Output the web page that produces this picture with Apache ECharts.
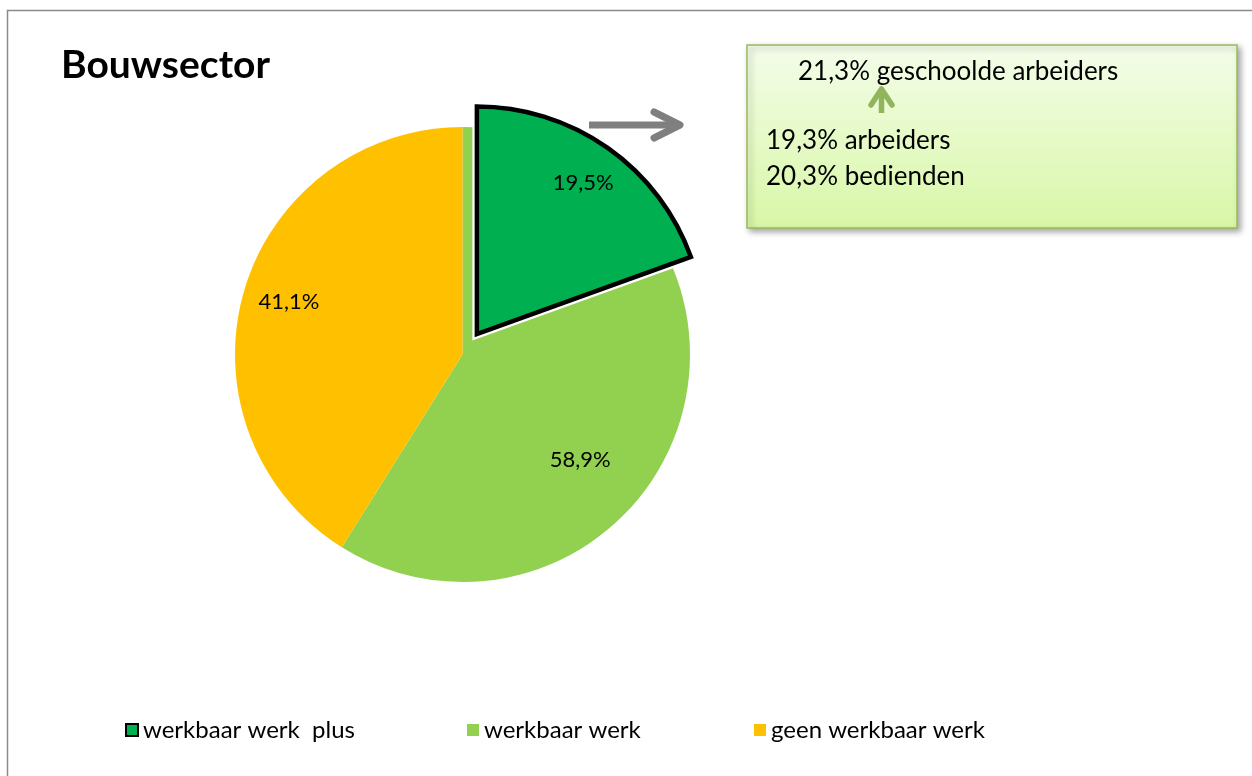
<!DOCTYPE html>
<html>
<head>
<meta charset="utf-8">
<title>Bouwsector</title>
<script src="https://cdn.jsdelivr.net/npm/echarts@6/dist/echarts.min.js"></script>
<style>
  html, body { margin: 0; padding: 0; background: #fff; }
  #chart { width: 1252px; height: 776px; }
</style>
</head>
<body>
<div id="chart"></div>
<script>
// Share of workers per category (percent)
const chartTitle = 'Bouwsector';
const categories = ['werkbaar werk  plus', 'werkbaar werk', 'geen werkbaar werk'];
const shares = [19.5, 58.9, 41.1];
// Breakdown of "werkbaar werk plus" shown in the side note
const noteLines = ['21,3% geschoolde arbeiders', '19,3% arbeiders', '20,3% bedienden'];

const COLORS = { plus: '#00B050', werk: '#92D050', geen: '#FFC000' };
const FONT = 'Lato, "Open Sans", sans-serif';
const CX = 462.5, CY = 354.5, R = 227.5;
const EXPLODE = 25;
const CLEAR = 'rgba(0,0,0,0)';

const fmt = v => v.toFixed(1).replace('.', ',') + '%';

// the "plus" slice is a part of "werkbaar werk", pulled out along its bisector
const plusMid = (shares[0] / 100) * Math.PI; // half the slice angle, radians from 12 o'clock
const plusCenter = [CX + EXPLODE * Math.sin(plusMid), CY - EXPLODE * Math.cos(plusMid)];
const plusRest = 100 - shares[0];
const werkRest = shares[1] - shares[0];

const hidden = { show: false };
const labelText = { fontFamily: FONT, fontSize: 22, color: '#000' };

const chart = echarts.init(document.getElementById('chart'), null, { renderer: 'canvas' });

const baseSeries = {
  type: 'pie', center: [CX, CY], radius: [0, R], startAngle: 90, clockwise: true,
  silent: true, label: hidden, labelLine: hidden, z: 1,
  data: [
    { name: categories[1], value: shares[1], itemStyle: { color: COLORS.werk } },
    { name: categories[2], value: shares[2], itemStyle: { color: COLORS.geen } }
  ]
};

const haloSeries = {
  type: 'pie', center: plusCenter, radius: [0, R], startAngle: 90, clockwise: true,
  silent: true, label: hidden, labelLine: hidden, z: 2,
  data: [
    { name: 'halo', value: shares[0], itemStyle: { color: '#fff', borderColor: '#fff', borderWidth: 9, borderJoin: 'miter' } },
    { name: 'rest', value: plusRest, itemStyle: { color: CLEAR } }
  ]
};

const plusSeries = {
  type: 'pie', center: plusCenter, radius: [0, R], startAngle: 90, clockwise: true,
  silent: true, label: hidden, labelLine: hidden, z: 3,
  data: [
    { name: categories[0], value: shares[0], itemStyle: { color: COLORS.plus, borderColor: '#000', borderWidth: 4.5, borderJoin: 'miter' } },
    { name: 'rest', value: plusRest, itemStyle: { color: CLEAR } }
  ]
};

// label carriers: transparent rings so the labels sit further out than mid-radius
const plusLabels = {
  type: 'pie', center: plusCenter, radius: [R * 0.6, R], startAngle: 90, clockwise: true,
  silent: true, labelLine: hidden, z: 4,
  label: Object.assign({ show: true, position: 'inside' }, labelText),
  data: [
    { name: categories[0], value: shares[0], itemStyle: { color: CLEAR }, label: { formatter: fmt(shares[0]) } },
    { name: 'rest', value: plusRest, itemStyle: { color: CLEAR }, label: hidden }
  ]
};

const mainLabels = {
  type: 'pie', center: [CX, CY], radius: [R * 0.58, R], startAngle: 90, clockwise: true,
  silent: true, labelLine: hidden, z: 4,
  label: Object.assign({ show: true, position: 'inside' }, labelText),
  labelLayout: p => (p.dataIndex === 1 ? { dx: 3, dy: -37 } : { dx: 2, dy: -2 }),
  data: [
    { name: categories[0], value: shares[0], itemStyle: { color: CLEAR }, label: hidden },
    { name: categories[1], value: werkRest, itemStyle: { color: CLEAR }, label: { formatter: fmt(shares[1]) } },
    { name: categories[2], value: shares[2], itemStyle: { color: CLEAR }, label: { formatter: fmt(shares[2]) } }
  ]
};

const legendLefts = [125, 467, 754];
const legendIcons = [
  { color: COLORS.plus, borderColor: '#000', borderWidth: 2 },
  { color: COLORS.werk, borderWidth: 0 },
  { color: COLORS.geen, borderWidth: 0 }
];
const legends = categories.map((name, i) => ({
  left: legendLefts[i], top: 718, padding: 0, orient: 'horizontal',
  icon: 'rect', itemWidth: 12, itemHeight: 12, selectedMode: false,
  textStyle: { fontFamily: FONT, fontSize: 24, color: '#000', padding: [0, 0, 0, 0] },
  data: [{ name, itemStyle: legendIcons[i] }]
}));

const noteFont = '26px ' + FONT;
const noteBox = {
  type: 'group',
  children: [
    {
      type: 'rect', shape: { x: 747, y: 45, width: 490, height: 183 },
      style: {
        fill: new echarts.graphic.LinearGradient(0, 0, 0, 1, [
          { offset: 0, color: '#F4FDEA' }, { offset: 1, color: '#D8F7A6' }
        ]),
        stroke: '#9BBB59', lineWidth: 1.5,
        shadowBlur: 6, shadowOffsetX: 3, shadowOffsetY: 3, shadowColor: 'rgba(0,0,0,0.35)'
      }
    },
    { type: 'text', style: { text: noteLines[0], x: 798, y: 72, fill: '#000', font: noteFont, verticalAlign: 'middle' } },
    { type: 'text', style: { text: noteLines[1], x: 766, y: 141, fill: '#000', font: noteFont, verticalAlign: 'middle' } },
    { type: 'text', style: { text: noteLines[2], x: 766, y: 177, fill: '#000', font: noteFont, verticalAlign: 'middle' } },
    // small arrow pointing up to the first line
    { type: 'polyline', shape: { points: [[881.5, 113], [881.5, 89]] }, style: { stroke: '#92B55C', lineWidth: 5.5, lineCap: 'butt' } },
    { type: 'polyline', shape: { points: [[871, 105], [881.5, 89], [892, 105]] }, style: { stroke: '#92B55C', lineWidth: 5.5, lineCap: 'round', lineJoin: 'round', fill: null } }
  ]
};

// grey arrow from the pulled-out slice towards the note
const pointer = {
  type: 'group',
  children: [
    { type: 'polyline', shape: { points: [[589, 125], [679, 125]] }, style: { stroke: '#7F7F7F', lineWidth: 7, lineCap: 'butt' } },
    { type: 'polyline', shape: { points: [[654, 112], [680, 125], [654, 138]] }, style: { stroke: '#7F7F7F', lineWidth: 7, lineCap: 'round', lineJoin: 'round', fill: null } }
  ]
};

const frame = {
  type: 'rect', shape: { x: 7.5, y: 10.5, width: 1260, height: 780 },
  style: { fill: null, stroke: '#8A8A8A', lineWidth: 1.5 }, silent: true
};

chart.setOption({
  animation: false,
  backgroundColor: '#fff',
  title: {
    text: chartTitle, left: 61, top: 46, padding: 0,
    textStyle: { fontFamily: FONT, fontSize: 39, fontWeight: 'bold', color: '#000' }
  },
  legend: legends,
  graphic: [frame, pointer, noteBox],
  series: [baseSeries, haloSeries, plusSeries, plusLabels, mainLabels]
});
</script>
</body>
</html>
